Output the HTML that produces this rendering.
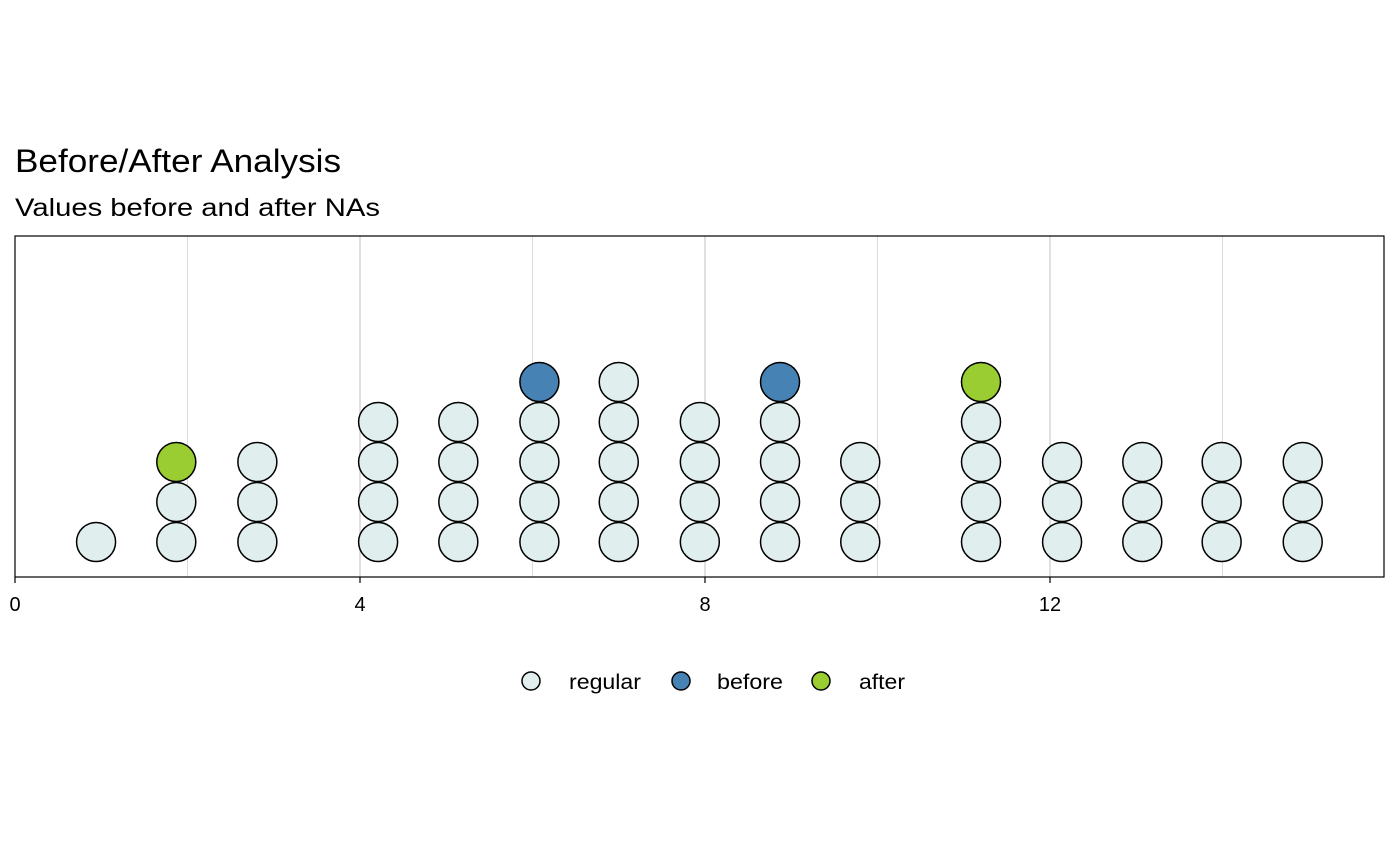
<!DOCTYPE html>
<html><head><meta charset="utf-8"><style>
html,body{margin:0;padding:0;background:#fff;}
svg{display:block;font-family:"Liberation Sans",Arial,sans-serif;}
</style></head><body>
<svg id="chart" width="1400" height="866">
<text x="15" y="172" font-size="32" fill="#000" textLength="326" lengthAdjust="spacingAndGlyphs">Before/After Analysis</text>
<text x="15" y="216" font-size="25" fill="#000" textLength="365" lengthAdjust="spacingAndGlyphs">Values before and after NAs</text>
<g id="grid"></g>
<g id="dots"></g>
<rect x="15" y="236" width="1369" height="341" fill="none" stroke="#000" stroke-width="1.2"/>
<g id="xaxis"></g>
<g id="legend">
<circle cx="531" cy="681" r="9" fill="#E0EEEE" stroke="#000" stroke-width="1.5"/>
<text x="569" y="689" font-size="21" textLength="72" lengthAdjust="spacingAndGlyphs">regular</text>
<circle cx="681" cy="681" r="9" fill="#4682B4" stroke="#000" stroke-width="1.5"/>
<text x="717" y="689" font-size="21" textLength="66" lengthAdjust="spacingAndGlyphs">before</text>
<circle cx="821" cy="681" r="9" fill="#9ACD32" stroke="#000" stroke-width="1.5"/>
<text x="859" y="689" font-size="21" textLength="46" lengthAdjust="spacingAndGlyphs">after</text>
</g>
</svg>
<script>
const binCenters = [0.94, 1.87, 2.81, 4.21, 5.14, 6.08, 7.0, 7.94, 8.87, 9.8, 11.2, 12.14, 13.07, 13.99, 14.93];
const binCounts = [1, 3, 3, 4, 4, 5, 5, 4, 5, 3, 5, 3, 3, 3, 3];
const topTypes = ["regular","after","regular","regular","regular","before","regular","regular","before","regular","after","regular","regular","regular","regular"];
const xTicks = [0, 4, 8, 12];
const xTickLabels = ["0", "4", "8", "12"];
const gridVals = [2, 4, 6, 8, 10, 12, 14];
const colors = {regular:"#E0EEEE", before:"#4682B4", after:"#9ACD32"};
const NS = "http://www.w3.org/2000/svg";
const x = v => 15 + v * 86.25;
const rowY = i => 542 - i * 40;
const grid = document.getElementById('grid');
gridVals.forEach(v => {
  const l = document.createElementNS(NS, 'line');
  l.setAttribute('x1', x(v)); l.setAttribute('x2', x(v));
  l.setAttribute('y1', 236); l.setAttribute('y2', 577);
  l.setAttribute('stroke', v % 4 === 0 ? '#c0c0c0' : '#dcdcdc'); l.setAttribute('stroke-width', 1);
  
  
  grid.appendChild(l);
});
const dots = document.getElementById('dots');
binCenters.forEach((c, i) => {
  for (let k = 0; k < binCounts[i]; k++) {
    const isTop = k === binCounts[i] - 1;
    const t = isTop ? topTypes[i] : 'regular';
    const ci = document.createElementNS(NS, 'circle');
    ci.setAttribute('cx', x(c)); ci.setAttribute('cy', rowY(k)); ci.setAttribute('r', 19.5);
    ci.setAttribute('fill', colors[t]); ci.setAttribute('stroke', '#000'); ci.setAttribute('stroke-width', 1.5);
    
    
    dots.appendChild(ci);
  }
});
const xa = document.getElementById('xaxis');
xTicks.forEach((v, i) => {
  const l = document.createElementNS(NS, 'line');
  l.setAttribute('x1', x(v)); l.setAttribute('x2', x(v));
  l.setAttribute('y1', 577); l.setAttribute('y2', 583);
  l.setAttribute('stroke', '#000'); l.setAttribute('stroke-width', 1.2);
  
  
  xa.appendChild(l);
  const t = document.createElementNS(NS, 'text');
  t.setAttribute('x', x(v)); t.setAttribute('y', 611);
  t.setAttribute('text-anchor', 'middle'); t.setAttribute('font-size', 20);
  t.textContent = xTickLabels[i];
  
  
  xa.appendChild(t);
});
</script>
</body></html>
